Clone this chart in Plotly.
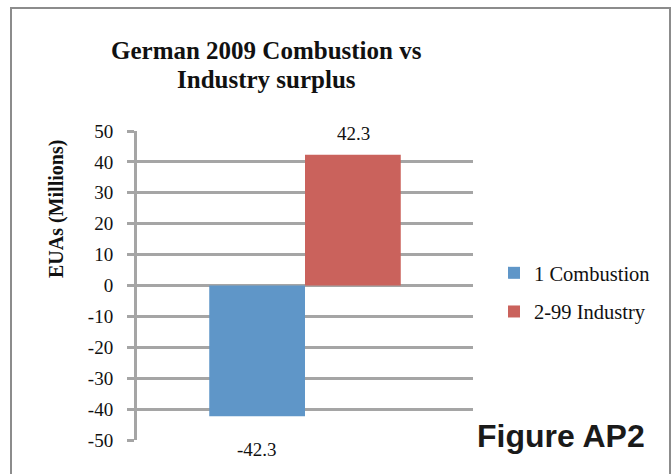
import plotly.graph_objects as go

# Data
category = ["German 2009"]
series_names = ["1 Combustion", "2-99 Industry"]
series_values = [[-42.3], [42.3]]
series_colors = ["#5f96c8", "#ca625c"]
y_ticks = [-50, -40, -30, -20, -10, 0, 10, 20, 30, 40, 50]
title_lines = ["German 2009 Combustion vs", "Industry surplus"]

W, H = 672, 474
L, R, T, B = 137, 199, 131, 34
plot_w = W - L - R
plot_h = H - T - B

SERIF = "Liberation Serif"
GRID = "#a5a5a5"


def px_x(px):
    return (px - L) / plot_w


def px_y(py):
    return (H - B - py) / plot_h


fig = go.Figure()
for i, (name, vals, col) in enumerate(zip(series_names, series_values, series_colors)):
    fig.add_trace(go.Bar(
        x=category, y=vals, name=name, marker=dict(color=col, line=dict(width=0)),
        legendgroup=f"g{i}",
    ))

# value labels beyond each bar end
offsets = [-48, 48]
shifts = [-33, 21]
for vals, dx, dy in zip(series_values, offsets, shifts):
    for c, v in zip(category, vals):
        fig.add_annotation(
            x=c, y=v, xref="x", yref="y", text=f"{v:g}", showarrow=False,
            xanchor="center", yanchor="middle", xshift=dx, yshift=dy,
            font=dict(family=SERIF, size=19, color="#111111"),
        )

# two-line chart title
for line, cy in zip(title_lines, [50.5, 79]):
    fig.add_annotation(
        x=px_x(266), y=px_y(cy), xref="paper", yref="paper",
        text=f"<b>{line}</b>", showarrow=False, xanchor="center", yanchor="middle",
        font=dict(family=SERIF, size=25, color="#111111"),
    )

# vertical axis title
fig.add_annotation(
    x=px_x(56), y=px_y(209), xref="paper", yref="paper",
    text="<b>EUAs (Millions)</b>", textangle=-90, showarrow=False,
    xanchor="center", yanchor="middle",
    font=dict(family=SERIF, size=20, color="#111111"),
)

# figure tag
fig.add_annotation(
    x=px_x(561), y=px_y(435.5), xref="paper", yref="paper",
    text="<b>Figure AP2</b>", showarrow=False, xanchor="center", yanchor="middle",
    font=dict(family="Liberation Sans", size=32, color="#1a1a1a"),
)

# chart frame
fig.add_shape(
    type="rect", xref="paper", yref="paper",
    x0=px_x(11), x1=px_x(670), y0=px_y(490), y1=px_y(8),
    line=dict(color="#8c8c8c", width=2), fillcolor="rgba(0,0,0,0)", layer="below",
)

fig.update_layout(
    width=W, height=H,
    margin=dict(l=L, r=R, t=T, b=B),
    paper_bgcolor="white", plot_bgcolor="white",
    barmode="group", bargap=0.43, bargroupgap=0,
    showlegend=True,
    legend=dict(
        x=px_x(494), y=px_y(253), xanchor="left", yanchor="top",
        traceorder="grouped", tracegroupgap=9,
        font=dict(family=SERIF, size=20.5, color="#111111"),
        bgcolor="rgba(0,0,0,0)", itemwidth=30,
    ),
    xaxis=dict(
        showticklabels=False, showgrid=False, zeroline=False, showline=False,
        ticks="",
    ),
    yaxis=dict(
        range=[-50, 50], tickvals=y_ticks, ticktext=[str(t) for t in y_ticks],
        showgrid=True, gridcolor=GRID, gridwidth=3,
        zeroline=False, showline=True, linecolor=GRID, linewidth=3,
        ticks="outside", ticklen=7, tickwidth=3, tickcolor=GRID,
        ticklabelstandoff=10,
        tickfont=dict(family=SERIF, size=19, color="#111111"),
    ),
)

fig.write_html("out.html")
